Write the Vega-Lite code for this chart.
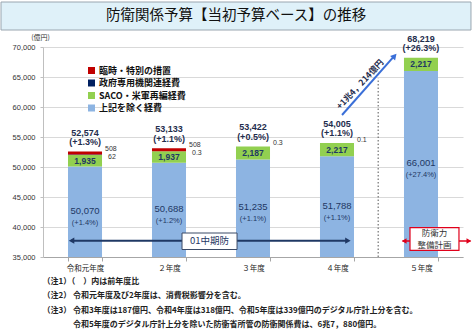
{
  "$schema": "https://vega.github.io/schema/vega-lite/v6.json",
  "width": 420,
  "height": 210,
  "autosize": {"type": "none"},
  "padding": {"left": 43, "top": 47, "right": 11, "bottom": 77},
  "background": "white",
  "config": {
    "view": {"stroke": null},
    "font": "Noto Sans CJK JP",
    "legend": {"padding": 0},
    "axisY": {"labelExpr": "format(datum.value, ',')", "labelOverlap": false, "labelFont": "Liberation Sans", "labelFontSize": 7.5, "labelColor": "#333", "gridColor": "#d9d9d9", "domainColor": "#bfbfbf", "tickColor": "#bfbfbf", "tickSize": 3, "labelPadding": 5, "tickCount": 8}
  },
  "datasets": {
    "bars": [
      {"year": "令和元年度", "item": "上記を除く経費", "ord": 1, "value": 50070},
      {"year": "令和元年度", "item": "SACO・米軍再編経費", "ord": 2, "value": 1935},
      {"year": "令和元年度", "item": "政府専用機関連経費", "ord": 3, "value": 62},
      {"year": "令和元年度", "item": "臨時・特別の措置", "ord": 4, "value": 508},
      {"year": "２年度", "item": "上記を除く経費", "ord": 1, "value": 50688},
      {"year": "２年度", "item": "SACO・米軍再編経費", "ord": 2, "value": 1937},
      {"year": "２年度", "item": "政府専用機関連経費", "ord": 3, "value": 0.3},
      {"year": "２年度", "item": "臨時・特別の措置", "ord": 4, "value": 508},
      {"year": "３年度", "item": "上記を除く経費", "ord": 1, "value": 51235},
      {"year": "３年度", "item": "SACO・米軍再編経費", "ord": 2, "value": 2187},
      {"year": "３年度", "item": "政府専用機関連経費", "ord": 3, "value": 0.3},
      {"year": "４年度", "item": "上記を除く経費", "ord": 1, "value": 51788},
      {"year": "４年度", "item": "SACO・米軍再編経費", "ord": 2, "value": 2217},
      {"year": "４年度", "item": "政府専用機関連経費", "ord": 3, "value": 0.1},
      {"year": "５年度", "item": "上記を除く経費", "ord": 1, "value": 66001},
      {"year": "５年度", "item": "SACO・米軍再編経費", "ord": 2, "value": 2217}
    ],
    "years": [
      {"year": "令和元年度", "base": 50070, "saco": 1935, "gov": 62, "total": 52574, "totalPct": "(+1.3%)", "basePct": "(+1.4%)", "topNote": "508", "lowNote": "62"},
      {"year": "２年度", "base": 50688, "saco": 1937, "gov": 0.3, "total": 53133, "totalPct": "(+1.1%)", "basePct": "(+1.2%)", "topNote": "508", "lowNote": "0.3"},
      {"year": "３年度", "base": 51235, "saco": 2187, "gov": 0.3, "total": 53422, "totalPct": "(+0.5%)", "basePct": "(+1.1%)", "topNote": "0.3", "lowNote": ""},
      {"year": "４年度", "base": 51788, "saco": 2217, "gov": 0.1, "total": 54005, "totalPct": "(+1.1%)", "basePct": "(+1.1%)", "topNote": "0.1", "lowNote": ""},
      {"year": "５年度", "base": 66001, "saco": 2217, "gov": 0, "total": 68219, "totalPct": "(+26.3%)", "basePct": "(+27.4%)", "topNote": "", "lowNote": ""}
    ]
  },
  "layer": [
    {
      "layer": [
        {
          "data": {"name": "bars"},
          "mark": {"type": "bar", "clip": true},
          "encoding": {
            "x": {
              "field": "year", "type": "nominal",
              "sort": ["令和元年度", "２年度", "３年度", "４年度", "５年度"],
              "scale": {"paddingInner": 0.595, "paddingOuter": 0.2976},
              "axis": {"title": null, "labelAngle": 0, "labelFont": "Noto Sans CJK JP", "labelFontSize": 7.5, "labelColor": "#222", "domainColor": "#a6a6a6", "tickColor": "#a6a6a6", "tickBand": "extent", "tickSize": 4, "labelPadding": 3}
            },
            "y": {
              "field": "value", "type": "quantitative", "stack": "zero",
              "scale": {"domain": [35000, 70000], "nice": false, "zero": false},
              "axis": {"title": "(億円)", "titleAngle": 0, "titleX": -3, "titleY": -10, "titleAlign": "center", "titleBaseline": "middle", "titleFontSize": 7, "titleFontWeight": "normal", "titleFont": "Noto Sans CJK JP", "titleColor": "#333",
                "values": [35000, 40000, 45000, 50000, 55000, 60000, 65000, 70000]}
            },
            "color": {
              "field": "item", "type": "nominal",
              "scale": {"domain": ["臨時・特別の措置", "政府専用機関連経費", "SACO・米軍再編経費", "上記を除く経費"], "range": ["#c00000", "#002060", "#92d050", "#8db4e2"]},
              "legend": {"title": null, "orient": "none", "legendX": 44, "legendY": 19, "symbolType": "square", "symbolSize": 49, "symbolStrokeWidth": 0, "labelFontSize": 9, "labelFontWeight": "bold", "labelFont": "Noto Sans CJK JP", "labelColor": "#111", "rowPadding": 2.5, "labelOffset": 3}
            },
            "order": {"field": "ord", "type": "quantitative"}
          }
        },
        {
          "data": {"name": "years"},
          "mark": {"type": "text", "dy": -19, "fontWeight": "bold", "fontSize": 9, "font": "Liberation Sans", "color": "#1f2d4d", "baseline": "middle"},
          "encoding": {
            "x": {"field": "year", "type": "nominal", "sort": ["令和元年度", "２年度", "３年度", "４年度", "５年度"]},
            "y": {"field": "total", "type": "quantitative"},
            "text": {"field": "total", "type": "quantitative", "format": ","}
          }
        },
        {
          "data": {"name": "years"},
          "mark": {"type": "text", "dy": -9.5, "fontWeight": "bold", "fontSize": 9, "font": "Liberation Sans", "color": "#1f2d4d", "baseline": "middle"},
          "encoding": {
            "x": {"field": "year", "type": "nominal", "sort": ["令和元年度", "２年度", "３年度", "４年度", "５年度"]},
            "y": {"field": "total", "type": "quantitative"},
            "text": {"field": "totalPct", "type": "nominal"}
          }
        },
        {
          "data": {"name": "years"},
          "transform": [{"calculate": "(35000 + datum.base) / 2", "as": "mid"}],
          "mark": {"type": "text", "dy": -1, "fontSize": 9.5, "font": "Liberation Sans", "color": "#1f3864", "baseline": "middle"},
          "encoding": {
            "x": {"field": "year", "type": "nominal", "sort": ["令和元年度", "２年度", "３年度", "４年度", "５年度"]},
            "y": {"field": "mid", "type": "quantitative"},
            "text": {"field": "base", "type": "quantitative", "format": ","}
          }
        },
        {
          "data": {"name": "years"},
          "transform": [{"calculate": "(35000 + datum.base) / 2", "as": "mid"}],
          "mark": {"type": "text", "dy": 11, "fontSize": 7.5, "font": "Liberation Sans", "color": "#1f3864", "baseline": "middle"},
          "encoding": {
            "x": {"field": "year", "type": "nominal", "sort": ["令和元年度", "２年度", "３年度", "４年度", "５年度"]},
            "y": {"field": "mid", "type": "quantitative"},
            "text": {"field": "basePct", "type": "nominal"}
          }
        },
        {
          "data": {"name": "years"},
          "transform": [{"calculate": "datum.base + datum.saco / 2", "as": "sacoMid"}],
          "mark": {"type": "text", "fontSize": 8.5, "fontWeight": "bold", "font": "Liberation Sans", "color": "#1f3864", "baseline": "middle"},
          "encoding": {
            "x": {"field": "year", "type": "nominal", "sort": ["令和元年度", "２年度", "３年度", "４年度", "５年度"]},
            "y": {"field": "sacoMid", "type": "quantitative"},
            "text": {"field": "saco", "type": "quantitative", "format": ","}
          }
        },
        {
          "data": {"name": "years"},
          "mark": {"type": "text", "dx": 20, "dy": -3, "align": "left", "fontSize": 7, "font": "Liberation Sans", "color": "#333", "baseline": "middle"},
          "encoding": {
            "x": {"field": "year", "type": "nominal", "sort": ["令和元年度", "２年度", "３年度", "４年度", "５年度"]},
            "y": {"field": "total", "type": "quantitative"},
            "text": {"field": "topNote", "type": "nominal"}
          }
        },
        {
          "data": {"name": "years"},
          "transform": [{"calculate": "datum.base + datum.saco + datum.gov", "as": "lowY"}],
          "mark": {"type": "text", "dx": 23, "dy": 2, "align": "left", "fontSize": 7, "font": "Liberation Sans", "color": "#333", "baseline": "middle"},
          "encoding": {
            "x": {"field": "year", "type": "nominal", "sort": ["令和元年度", "２年度", "３年度", "４年度", "５年度"]},
            "y": {"field": "lowY", "type": "quantitative"},
            "text": {"field": "lowNote", "type": "nominal"}
          }
        }
      ]
    },
    {
      "data": {"values": [{}]},
      "layer": [
        {
          "mark": {"type": "rect", "fill": "#dff1f9", "stroke": "#9aa6b0", "strokeWidth": 1},
          "encoding": {
            "x": {"datum": -0.5, "type": "quantitative", "scale": {"domain": [0, 5], "nice": false, "zero": false}, "axis": null},
            "x2": {"datum": 5.095},
            "y": {"datum": 77500, "type": "quantitative"},
            "y2": {"datum": 72833}
          }
        },
        {
          "mark": {"type": "text", "fontSize": 14.5, "font": "Noto Sans CJK JP", "color": "#111", "baseline": "middle", "align": "center", "text": "防衛関係予算【当初予算ベース】の推移"},
          "encoding": {
            "x": {"datum": 2.298, "type": "quantitative", "axis": null},
            "y": {"datum": 75100, "type": "quantitative"}
          }
        },
        {
          "mark": {"type": "rule", "stroke": "#555", "strokeDash": [1.5, 2], "strokeWidth": 1},
          "encoding": {
            "x": {"datum": 3.99, "type": "quantitative", "axis": null},
            "y": {"datum": 35000, "type": "quantitative"},
            "y2": {"datum": 64783}
          }
        },
        {
          "mark": {"type": "rule", "stroke": "#3a6fd8", "strokeWidth": 2},
          "encoding": {
            "x": {"datum": 3.56, "type": "quantitative", "axis": null},
            "x2": {"datum": 4.17},
            "y": {"datum": 58667, "type": "quantitative"},
            "y2": {"datum": 68300}
          }
        },
        {
          "mark": {"type": "point", "shape": "triangle-up", "angle": 42, "filled": true, "size": 45, "color": "#3a6fd8", "opacity": 1},
          "encoding": {
            "x": {"datum": 4.185, "type": "quantitative", "axis": null},
            "y": {"datum": 68500, "type": "quantitative"}
          }
        },
        {
          "mark": {"type": "text", "angle": -47, "fontSize": 8.5, "fontWeight": "bold", "font": "Noto Sans CJK JP", "color": "#1f2d4d", "baseline": "middle", "align": "center", "text": "+1兆4，214億円"},
          "encoding": {
            "x": {"datum": 3.774, "type": "quantitative", "axis": null},
            "y": {"datum": 63800, "type": "quantitative"}
          }
        },
        {
          "mark": {"type": "rule", "stroke": "#1f3864", "strokeWidth": 2},
          "encoding": {
            "x": {"datum": 0.333, "type": "quantitative", "axis": null},
            "x2": {"datum": 3.631},
            "y": {"datum": 37717, "type": "quantitative"}
          }
        },
        {
          "mark": {"type": "point", "shape": "triangle-left", "filled": true, "size": 40, "color": "#1f3864", "opacity": 1},
          "encoding": {
            "x": {"datum": 0.34, "type": "quantitative", "axis": null},
            "y": {"datum": 37717, "type": "quantitative"}
          }
        },
        {
          "mark": {"type": "point", "shape": "triangle-right", "filled": true, "size": 40, "color": "#1f3864", "opacity": 1},
          "encoding": {
            "x": {"datum": 3.63, "type": "quantitative", "axis": null},
            "y": {"datum": 37717, "type": "quantitative"}
          }
        },
        {
          "mark": {"type": "rect", "fill": "white", "stroke": "#3b4a66", "strokeWidth": 1},
          "encoding": {
            "x": {"datum": 1.655, "type": "quantitative", "axis": null},
            "x2": {"datum": 2.31},
            "y": {"datum": 39000, "type": "quantitative"},
            "y2": {"datum": 36250}
          }
        },
        {
          "mark": {"type": "text", "fontSize": 9.5, "font": "Noto Sans CJK JP", "color": "#1f3864", "baseline": "middle", "align": "center", "text": "01中期防"},
          "encoding": {
            "x": {"datum": 1.982, "type": "quantitative", "axis": null},
            "y": {"datum": 37650, "type": "quantitative"}
          }
        },
        {
          "mark": {"type": "rule", "stroke": "#e0001b", "strokeWidth": 1.5},
          "encoding": {
            "x": {"datum": 4.28, "type": "quantitative", "axis": null},
            "x2": {"datum": 5.09},
            "y": {"datum": 37667, "type": "quantitative"}
          }
        },
        {
          "mark": {"type": "point", "shape": "triangle-left", "filled": true, "size": 30, "color": "#e0001b", "opacity": 1},
          "encoding": {
            "x": {"datum": 4.3, "type": "quantitative", "axis": null},
            "y": {"datum": 37667, "type": "quantitative"}
          }
        },
        {
          "mark": {"type": "point", "shape": "triangle-right", "filled": true, "size": 30, "color": "#e0001b", "opacity": 1},
          "encoding": {
            "x": {"datum": 5.07, "type": "quantitative", "axis": null},
            "y": {"datum": 37667, "type": "quantitative"}
          }
        },
        {
          "mark": {"type": "rect", "fill": "white", "stroke": "#e0001b", "strokeWidth": 1.2},
          "encoding": {
            "x": {"datum": 4.369, "type": "quantitative", "axis": null},
            "x2": {"datum": 4.952},
            "y": {"datum": 39900, "type": "quantitative"},
            "y2": {"datum": 36100}
          }
        },
        {
          "mark": {"type": "text", "fontSize": 8.5, "font": "Noto Sans CJK JP", "color": "#333", "baseline": "middle", "align": "center", "text": "防衛力"},
          "encoding": {
            "x": {"datum": 4.661, "type": "quantitative", "axis": null},
            "y": {"datum": 38950, "type": "quantitative"}
          }
        },
        {
          "mark": {"type": "text", "fontSize": 8.5, "font": "Noto Sans CJK JP", "color": "#333", "baseline": "middle", "align": "center", "text": "整備計画"},
          "encoding": {
            "x": {"datum": 4.661, "type": "quantitative", "axis": null},
            "y": {"datum": 36950, "type": "quantitative"}
          }
        },
        {
          "mark": {"type": "text", "fontSize": 8, "fontWeight": "bold", "font": "Noto Sans CJK JP", "color": "#222", "baseline": "top", "align": "left", "lineHeight": 14.3, "text": ["（注1）（　）内は前年度比", "（注2） 令和元年度及び2年度は、消費税影響分を含む。", "（注3） 令和3年度は187億円、令和4年度は318億円、令和5年度は339億円のデジタル庁計上分を含む。"]},
          "encoding": {
            "x": {"datum": -0.005, "type": "quantitative", "axis": null},
            "y": {"datum": 31500, "type": "quantitative"}
          }
        },
        {
          "mark": {"type": "text", "fontSize": 8, "fontWeight": "bold", "font": "Noto Sans CJK JP", "color": "#222", "baseline": "top", "align": "left", "text": "令和5年度のデジタル庁計上分を除いた防衛省所管の防衛関係費は、6兆7，880億円。"},
          "encoding": {
            "x": {"datum": 0.357, "type": "quantitative", "axis": null},
            "y": {"datum": 24350, "type": "quantitative"}
          }
        }
      ]
    }
  ],
  "resolve": {"scale": {"x": "independent"}}
}
